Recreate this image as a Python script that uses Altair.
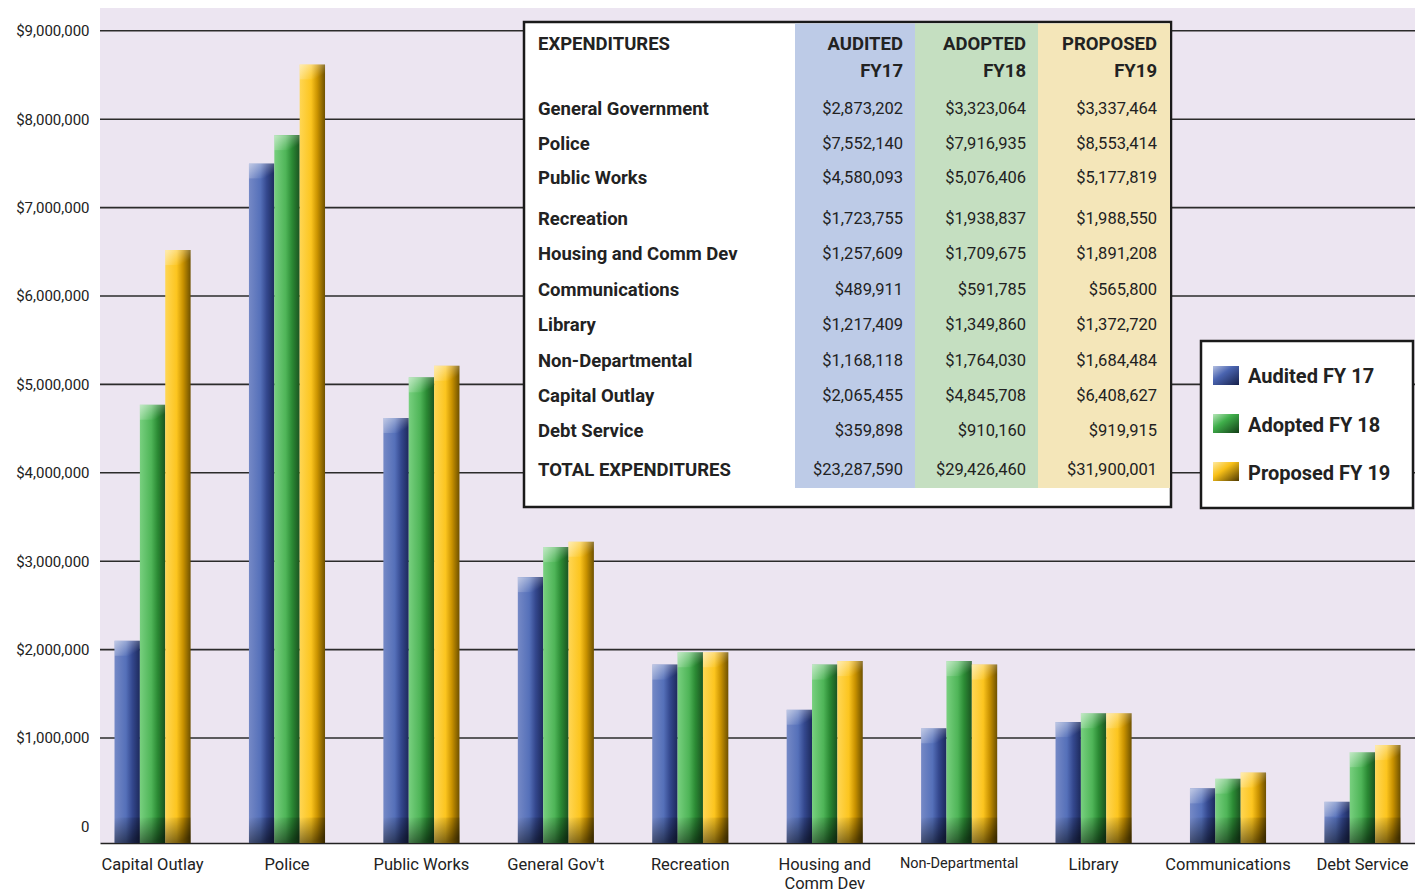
import altair as alt
import pandas as pd

# ---------------- data ----------------
categories = ["Capital Outlay", "Police", "Public Works", "General Gov't", "Recreation",
              "Housing and Comm Dev", "Non-Departmental", "Library", "Communications", "Debt Service"]
series_names = ["Audited FY 17", "Adopted FY 18", "Proposed FY 19"]
audited_fy17 = [2100000, 7500000, 4620000, 2820000, 1830000, 1320000, 1110000, 1180000, 430000, 280000]
adopted_fy18 = [4770000, 7820000, 5080000, 3160000, 1970000, 1830000, 1870000, 1280000, 540000, 840000]
proposed_fy19 = [6520000, 8620000, 5210000, 3220000, 1970000, 1870000, 1830000, 1280000, 610000, 920000]
y_tick_values = [0, 1000000, 2000000, 3000000, 4000000, 5000000, 6000000, 7000000, 8000000, 9000000]

table_head = ["EXPENDITURES", "AUDITED", "ADOPTED", "PROPOSED"]
table_head2 = ["FY17", "FY18", "FY19"]
table_rows = ["General Government", "Police", "Public Works", "Recreation", "Housing and Comm Dev",
              "Communications", "Library", "Non-Departmental", "Capital Outlay", "Debt Service",
              "TOTAL EXPENDITURES"]
table_audited = ["$2,873,202", "$7,552,140", "$4,580,093", "$1,723,755", "$1,257,609", "$489,911",
                 "$1,217,409", "$1,168,118", "$2,065,455", "$359,898", "$23,287,590"]
table_adopted = ["$3,323,064", "$7,916,935", "$5,076,406", "$1,938,837", "$1,709,675", "$591,785",
                 "$1,349,860", "$1,764,030", "$4,845,708", "$910,160", "$29,426,460"]
table_proposed = ["$3,337,464", "$8,553,414", "$5,177,819", "$1,988,550", "$1,891,208", "$565,800",
                  "$1,372,720", "$1,684,484", "$6,408,627", "$919,915", "$31,900,001"]

# ---------------- layout ----------------
FONT = "Roboto"
W, H = 1315, 835
Y_MIN, Y_MAX = -188000, 9258000
TEXT = "#222222"


def px2v(py):
    return Y_MAX - py * (Y_MAX - Y_MIN) / H


TABLE_HEAD_Y = [36, 63]
TABLE_ROW_Y = [101, 136, 170, 211, 246, 282, 317, 353, 388, 423, 462]
LEGEND_Y = [369, 418, 466]
SWATCH_Y = [(358, 377), (406, 425), (454, 473)]

yscale = alt.Scale(domain=[Y_MIN, Y_MAX], nice=False, zero=False)
yaxis = alt.Axis(values=y_tick_values, grid=False, ticks=False, domain=False,
                 labelExpr="datum.value == 0 ? '0' : '$' + format(datum.value, ',')",
                 labelFont=FONT, labelFontSize=15, labelColor=TEXT, labelPadding=11, title=None)


def Y(field):
    return alt.Y(f"{field}:Q", scale=yscale, axis=yaxis)


xscale = alt.Scale(domain=categories, paddingInner=0.434, paddingOuter=0.108)
xaxis = alt.Axis(labelAngle=0, ticks=False, domain=True, domainColor="#222222", domainWidth=1.6,
                 labelFont=FONT,
                 labelFontSize={"condition": {"test": "datum.value == 'Non-Departmental'", "value": 14.5}, "value": 16.5},
                 labelColor=TEXT, labelPadding=13, labelLineHeight=19, labelBaseline="top",
                 labelExpr="datum.value == 'Housing and Comm Dev' ? ['Housing and', 'Comm Dev'] : datum.value",
                 title=None)
X = alt.X("category:N", scale=xscale, axis=xaxis, sort=categories)
XO = alt.XOffset("series:N", scale=alt.Scale(domain=series_names, paddingInner=0, paddingOuter=0), sort=series_names)

rows = []
for i, c in enumerate(categories):
    for s, vals in zip(series_names, [audited_fy17, adopted_fy18, proposed_fy19]):
        rows.append({"category": c, "series": s, "value": vals[i]})
bars_df = pd.DataFrame(rows)


def grad(stops, x2=1, y2=0):
    return alt.Gradient(gradient="linear", x1=0, y1=0, x2=x2, y2=y2,
                        stops=[alt.GradientStop(color=c, offset=o) for o, c in stops])


bar_grads = {
    "Audited FY 17": grad([(0, "#7589c6"), (0.45, "#5570b9"), (0.7, "#34488e"), (1, "#1d2a5c")]),
    "Adopted FY 18": grad([(0, "#78d07f"), (0.45, "#4fb558"), (0.7, "#2b8a34"), (1, "#1b5420")]),
    "Proposed FY 19": grad([(0, "#ffd654"), (0.45, "#fcc51f"), (0.7, "#c99200"), (1, "#6e5100")]),
}
swatch_grads = {
    "Audited FY 17": grad([(0, "#b4c0e2"), (0.4, "#4a64b0"), (1, "#16204a")], x2=1, y2=1),
    "Adopted FY 18": grad([(0, "#b6e6b8"), (0.4, "#3fae4a"), (1, "#123d16")], x2=1, y2=1),
    "Proposed FY 19": grad([(0, "#ffeaa0"), (0.4, "#f8c018"), (1, "#4e3900")], x2=1, y2=1),
}

one = pd.DataFrame({"a": [0]})

# gridlines
grid_df = pd.DataFrame({"v": [v for v in y_tick_values if v > 0]})
grid = alt.Chart(grid_df).mark_rule(color="#2b2b2b", strokeWidth=1.6).encode(y=Y("v"))

layers = [grid]
for s in series_names:
    layers.append(
        alt.Chart(bars_df).transform_filter(alt.datum.series == s)
        .mark_bar(fill=bar_grads[s])
        .encode(x=X, xOffset=XO, y=Y("value"), y2=alt.datum(Y_MIN))
    )

# top highlight
layers.append(
    alt.Chart(bars_df).transform_calculate(cap="datum.value - 170000")
    .mark_bar(fill=grad([(0, "rgba(255,255,255,0.55)"), (0.8, "rgba(255,255,255,0)")], x2=1, y2=1))
    .encode(x=X, xOffset=XO, y=Y("value"), y2="cap:Q")
)
# bottom shade
layers.append(
    alt.Chart(bars_df)
    .mark_bar(fill=grad([(0, "rgba(0,0,0,0)"), (1, "rgba(0,0,0,0.5)")], x2=0.4, y2=1))
    .encode(x=X, xOffset=XO, y=alt.datum(100000), y2=alt.datum(Y_MIN))
)

# ---------------- table ----------------
layers.append(alt.Chart(one).mark_rect(fill="white", stroke="#1a1a1a", strokeWidth=2.5).encode(
    x=alt.value(424), x2=alt.value(1071), y=alt.value(14), y2=alt.value(499)))
for x0, x1, col in [(695, 815, "#bdcbe7"), (815, 938, "#c5dfc1"), (938, 1070, "#f4e6b9")]:
    layers.append(alt.Chart(one).mark_rect(fill=col).encode(
        x=alt.value(x0), x2=alt.value(x1), y=alt.value(15.5), y2=alt.value(480)))

head_df = pd.DataFrame({"t": table_head[:1], "yv": [px2v(TABLE_HEAD_Y[0])]})
layers.append(alt.Chart(head_df).mark_text(font=FONT, fontWeight="bold", fontSize=18.5, align="left",
                                           baseline="middle", color=TEXT)
              .encode(x=alt.value(438), y=Y("yv"), text="t:N"))
for xr, t1, t2 in zip([803, 926, 1057], table_head[1:], table_head2):
    hdf = pd.DataFrame({"t": [t1, t2], "yv": [px2v(TABLE_HEAD_Y[0]), px2v(TABLE_HEAD_Y[1])]})
    layers.append(alt.Chart(hdf).mark_text(font=FONT, fontWeight="bold", fontSize=18.5, align="right",
                                           baseline="middle", color=TEXT)
                  .encode(x=alt.value(xr), y=Y("yv"), text="t:N"))

tab_df = pd.DataFrame({"label": table_rows, "aud": table_audited, "adp": table_adopted,
                       "prp": table_proposed, "yv": [px2v(p) for p in TABLE_ROW_Y]})
layers.append(alt.Chart(tab_df).mark_text(font=FONT, fontWeight="bold", fontSize=18.5, align="left",
                                          baseline="middle", color=TEXT)
              .encode(x=alt.value(438), y=Y("yv"), text="label:N"))
for xr, f in zip([803, 926, 1057], ["aud", "adp", "prp"]):
    layers.append(alt.Chart(tab_df).mark_text(font=FONT, fontSize=16.5, align="right",
                                              baseline="middle", color=TEXT)
                  .encode(x=alt.value(xr), y=Y("yv"), text=f"{f}:N"))

# ---------------- legend ----------------
layers.append(alt.Chart(one).mark_rect(fill="white", stroke="#1a1a1a", strokeWidth=2.5).encode(
    x=alt.value(1101), x2=alt.value(1313), y=alt.value(333), y2=alt.value(500)))
for s, (y0, y1) in zip(series_names, SWATCH_Y):
    layers.append(alt.Chart(one).mark_rect(fill=swatch_grads[s]).encode(
        x=alt.value(1113), x2=alt.value(1139), y=alt.value(y0), y2=alt.value(y1)))
leg_df = pd.DataFrame({"s": series_names, "yv": [px2v(p) for p in LEGEND_Y]})
layers.append(alt.Chart(leg_df).mark_text(font=FONT, fontWeight="bold", fontSize=20, align="left",
                                          baseline="middle", color=TEXT)
              .encode(x=alt.value(1148), y=Y("yv"), text="s:N"))

chart = alt.layer(*layers).properties(
    width=W, height=H,
    autosize=alt.AutoSizeParams(type="none"),
    padding={"left": 92, "top": 0, "right": 0, "bottom": 49},
    background="white",
).configure_view(fill="#ece5f1", stroke=None)

chart.save("out.html", embed_options={"renderer": "svg", "actions": False})
